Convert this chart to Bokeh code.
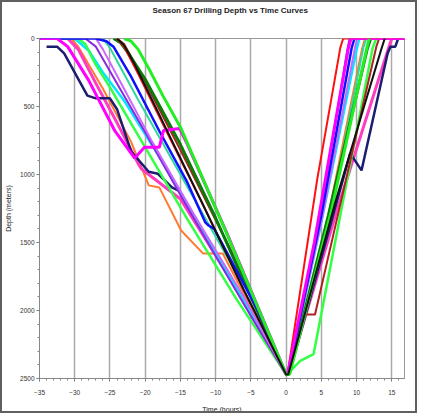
from bokeh.plotting import figure
from bokeh.models import Range1d, FixedTicker, Title
from bokeh.embed import file_html
from bokeh.resources import INLINE

# ---- data (time in hours relative to TD, depth in metres) ----
x_ticks = [-35, -30, -25, -20, -15, -10, -5, 0, 5, 10, 15]
y_ticks = [0, 500, 1000, 1500, 2000, 2500]

magenta_t = [-35, -32.5, -31, -28, -24.3, -21.5, -20.1, -18, -17.4, -15.1, -14, -8.5, 0, 0.2, 4, 8.8, 9.2, 17]
magenta_d = [0, 0, 60, 310, 680, 880, 800, 800, 676, 662, 780, 1420, 2470, 2470, 1500, 80, 0, 0]

hotpink_t = [-35, -31, -29.5, -27, -24, -21, -20.5, -15, -8, 0, 0.3, 7, 14.6, 15, 17]
hotpink_d = [0, 0, 80, 330, 620, 920, 960, 1180, 1760, 2470, 2470, 1300, 60, 0, 0]

navy_t = [-34, -32.5, -31.5, -28.2, -27, -25, -24, -22, -19.5, -18.2, -16.2, -15.2, -13, -5, 0, 0.4, 9.1, 10.7, 14.4, 14.8, 15.5, 15.9]
navy_d = [60, 60, 110, 420, 440, 440, 520, 830, 980, 995, 1095, 1120, 1320, 2030, 2470, 2470, 845, 970, 110, 60, 60, 0]

orange_t = [-30.5, -29.5, -26, -22, -19.5, -18, -14.9, -11.8, -9, -8.4, 0, 0.5, 6, 10.8, 11.2]
orange_d = [0, 60, 370, 760, 1080, 1095, 1412, 1580, 1580, 1640, 2470, 2470, 1300, 70, 0]

cyan_t = [-35, -30, -28, -26, -23, -18, -12, -6, 0, 0.3, 5, 10, 10.4]
cyan_d = [0, 0, 90, 250, 456, 870, 1400, 1930, 2470, 2470, 1350, 80, 0]

lime_t = [-35, -29.5, -28.5, -27.1, -25, -20, -14, -7, 0, 0.3, 2, 3.9, 8.1, 12.3, 12.8]
lime_d = [0, 0, 40, 185, 360, 800, 1330, 1920, 2470, 2460, 2370, 2320, 1190, 65, 0]

blue_t = [-35, -27, -25.5, -24.5, -22, -18, -14, -11.5, -11, -10.2, -4, 0, 0.3, 5, 9.3, 9.7]
blue_d = [0, 0, 20, 60, 280, 680, 1060, 1350, 1375, 1400, 2000, 2470, 2470, 1300, 70, 0]

purple_t = [-35, -28.5, -27, -24, -20, -15, -10, -5, 0, 0.2, 4.5, 8.7, 9.0]
purple_d = [0, 0, 60, 330, 690, 1150, 1600, 2040, 2470, 2470, 1400, 80, 0]

violet_t = [-27, -26, -23, -19, -13, -6, 0, 0.3, 5.2, 9.8, 10.1]
violet_d = [0, 80, 370, 760, 1300, 1900, 2470, 2470, 1300, 60, 0]

seagreen_t = [-26, -25, -21, -15, -8, 0, 0.4, 6, 11, 11.4]
seagreen_d = [0, 70, 450, 1000, 1640, 2470, 2470, 1350, 60, 0]

dkgreen_t = [-24.5, -23.5, -22.5, -20, -15, -10, -5, 0, 0.4, 6, 11.5, 12]
dkgreen_d = [0, 30, 100, 300, 780, 1320, 1900, 2470, 2470, 1300, 80, 0]

black_t = [-24, -23, -21.5, -18, -12, -6, 0, 0.3, 7, 13.5, 14]
black_d = [0, 50, 190, 560, 1200, 1850, 2470, 2470, 1200, 80, 0]

brown_t = [-24, -23, -20, -15, -8, 0, 0.3, 2.6, 4.1, 8, 12.8, 13.2]
brown_d = [0, 40, 320, 820, 1540, 2470, 2470, 2030, 2030, 1150, 60, 0]

red_t = [-24, -23, -21, -17, -12, -6, 0, 0.2, 4.4, 7.7, 8.1, 17]
red_d = [0, 60, 260, 680, 1200, 1850, 2470, 2470, 1040, 65, 0, 0]

green_t = [-23, -22, -21, -19.5, -17.5, -14.9, -8.8, 0, 0.5, 6.5, 11.5, 11.8]
green_d = [0, 20, 80, 220, 420, 662, 1390, 2470, 2470, 1250, 60, 0]

series = [
    (orange_t, orange_d, "#ff7a30", 2),
    (hotpink_t, hotpink_d, "#ff3cc0", 3),
    (navy_t, navy_d, "#1c1c70", 2.5),
    (cyan_t, cyan_d, "#00e8ff", 2.5),
    (lime_t, lime_d, "#33ff44", 2.5),
    (purple_t, purple_d, "#8a2be2", 2),
    (violet_t, violet_d, "#cc66ff", 2),
    (seagreen_t, seagreen_d, "#30d8a0", 2),
    (brown_t, brown_d, "#b02020", 2),
    (dkgreen_t, dkgreen_d, "#0a7a0a", 3),
    (red_t, red_d, "#ff1010", 2),
    (blue_t, blue_d, "#1010ff", 2.5),
    (magenta_t, magenta_d, "#ff00ff", 3),
    (green_t, green_d, "#22ee22", 3),
    (black_t, black_d, "#111111", 2),
]

p = figure(width=417, height=413, output_backend="svg", toolbar_location=None,
           x_range=Range1d(-35, 16.8), y_range=Range1d(2500, 0),
           min_border_left=35, min_border_right=15, min_border_top=36, min_border_bottom=37)

# spacer panel (closest to the frame), then the real title above it
spacer = Title(text=" ", text_font="Liberation Sans", text_font_size="8px", standoff=12)
p.add_layout(spacer, "above")
main_title = Title(text="Season 67 Drilling Depth vs Time Curves", align="left", offset=113,
                   standoff=1, text_font="Liberation Sans", text_font_size="8px",
                   text_font_style="bold", text_color="#222222")
p.add_layout(main_title, "above")

for t, d, c, w in series:
    p.line(t, d, line_color=c, line_width=w)

p.xaxis.ticker = FixedTicker(ticks=x_ticks, minor_ticks=list(range(-35, 17)))
p.yaxis.ticker = FixedTicker(ticks=y_ticks, minor_ticks=list(range(0, 2501, 100)))

for ax in (p.xaxis[0], p.yaxis[0]):
    ax.axis_line_color = "#888888"
    ax.major_tick_line_color = "#666666"
    ax.minor_tick_line_color = "#888888"
    ax.major_label_text_font = "Liberation Sans"
    ax.major_label_text_font_size = "6.5px"
    ax.major_label_text_color = "#333333"
    ax.axis_label_text_font = "Liberation Sans"
    ax.axis_label_text_font_size = "7px"
    ax.axis_label_text_font_style = "normal"
    ax.axis_label_text_color = "#222222"
    ax.major_tick_out = 3
    ax.major_tick_in = 0
    ax.minor_tick_out = 2
    ax.minor_tick_in = 0

p.xaxis.axis_label = "Time (hours)"
p.yaxis.axis_label = "Depth (meters)"
p.xaxis.major_label_standoff = 8
p.xaxis.axis_label_standoff = 8
p.yaxis.major_label_standoff = 2
p.yaxis.axis_label_standoff = 5

p.xgrid.grid_line_color = "#aaaaaa"
p.xgrid.grid_line_width = 1.5
p.ygrid.grid_line_color = None

p.outline_line_color = "#999999"
p.outline_line_width = 1
p.background_fill_color = "white"
p.border_fill_color = "white"
p.styles = {"border": "2px solid #606060"}

open("out.html", "w").write(file_html(p, INLINE))
